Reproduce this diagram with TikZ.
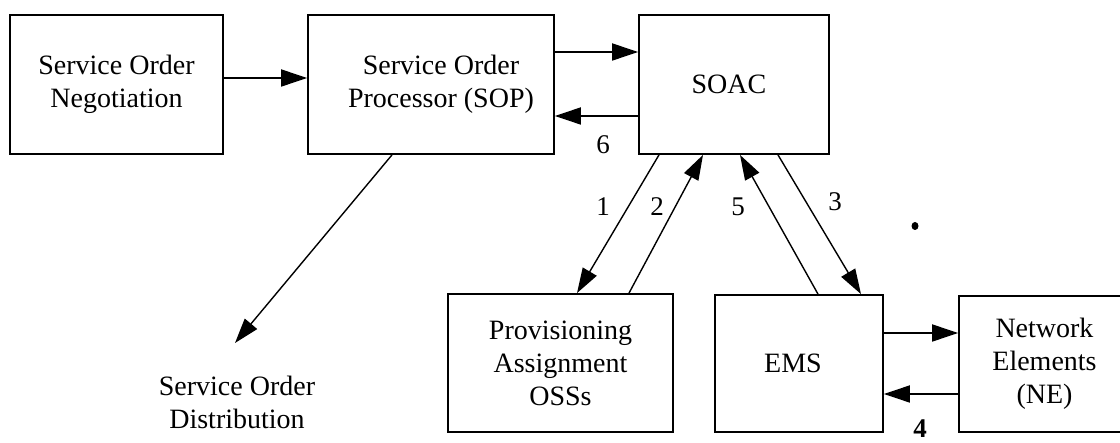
\documentclass[tikz,border=0pt]{standalone}
\usepackage{fontspec}
\setmainfont{Liberation Serif}
\usetikzlibrary{arrows.meta}
\begin{document}
\begin{tikzpicture}[x=1pt,y=-1pt,
  box/.style={draw, line width=1.8pt, inner sep=0pt, align=center,
              font=\fontsize{28}{33}\selectfont},
  txt/.style={inner sep=0pt, align=center, font=\fontsize{28}{33}\selectfont},
  lbl/.style={inner sep=0pt, font=\fontsize{27}{30}\selectfont},
  arr/.style={line width=1.8pt, -{Triangle[length=26pt,width=17pt]}},
  darr/.style={line width=1.4pt, -{Triangle[length=25pt,width=16pt]}}]
\useasboundingbox (0,0) rectangle (1120,443);

% boxes
\node[box, minimum width=213pt, minimum height=139pt] (neg) at (116.5,84.5)
  {\raisebox{-5pt}{Service Order}\\\raisebox{-5pt}{Negotiation}};
\node[box, minimum width=246pt, minimum height=139pt] (sop) at (431,84.5)
  {\hspace*{20pt}Service Order\\\hspace*{20pt}Processor (SOP)};
\node[box, minimum width=190pt, minimum height=139pt] (soac) at (734,84.5)
  {\hspace*{-10pt}SOAC};
\node[box, minimum width=225pt, minimum height=138pt] (prov) at (560.5,363)
  {Provisioning\\Assignment\\OSSs};
\node[box, minimum width=168pt, minimum height=137pt] (ems) at (799,363.5)
  {\hspace*{-12pt}EMS};
\node[box, minimum width=171pt, minimum height=136pt] (ne) at (1044.5,364)
  {Network\\Elements\\(NE)};
\node[txt] (dist) at (237,402) {Service Order\\Distribution};
\coordinate (disttip) at (235,343);

% connectors
\draw[arr] (neg.east |- 0,78) -- (sop.west |- 0,78);
\draw[arr] (sop.east |- 0,52) -- (soac.west |- 0,52);
\draw[arr] (soac.west |- 0,116) -- (sop.east |- 0,116);
\draw[darr] (sop.south -| 392,0) -- (disttip);
\draw[darr] (soac.south -| 659,0) -- (prov.north -| 577,0);
\draw[darr] (prov.north -| 629,0) -- (soac.south -| 703,0);
\draw[darr] (ems.north -| 818,0) -- (soac.south -| 740,0);
\draw[darr] (soac.south -| 778,0) -- (ems.north -| 861,0);
\draw[arr] (ems.east |- 0,333) -- (ne.west |- 0,333);
\draw[arr] (ne.west |- 0,394) -- (ems.east |- 0,394);

% labels
\node[lbl] (l6) at (603,145) {6};
\node[lbl] (l1) at (603,207) {1};
\node[lbl] (l2) at (657,207) {2};
\node[lbl] (l5) at (738,207) {5};
\node[lbl] (l3) at (835,202) {3};
\node[lbl, font=\fontsize{27}{30}\selectfont\bfseries] (l4) at (920,429) {4};
\fill (915,226) ellipse [x radius=3.5pt, y radius=4pt];
\end{tikzpicture}
\end{document}
